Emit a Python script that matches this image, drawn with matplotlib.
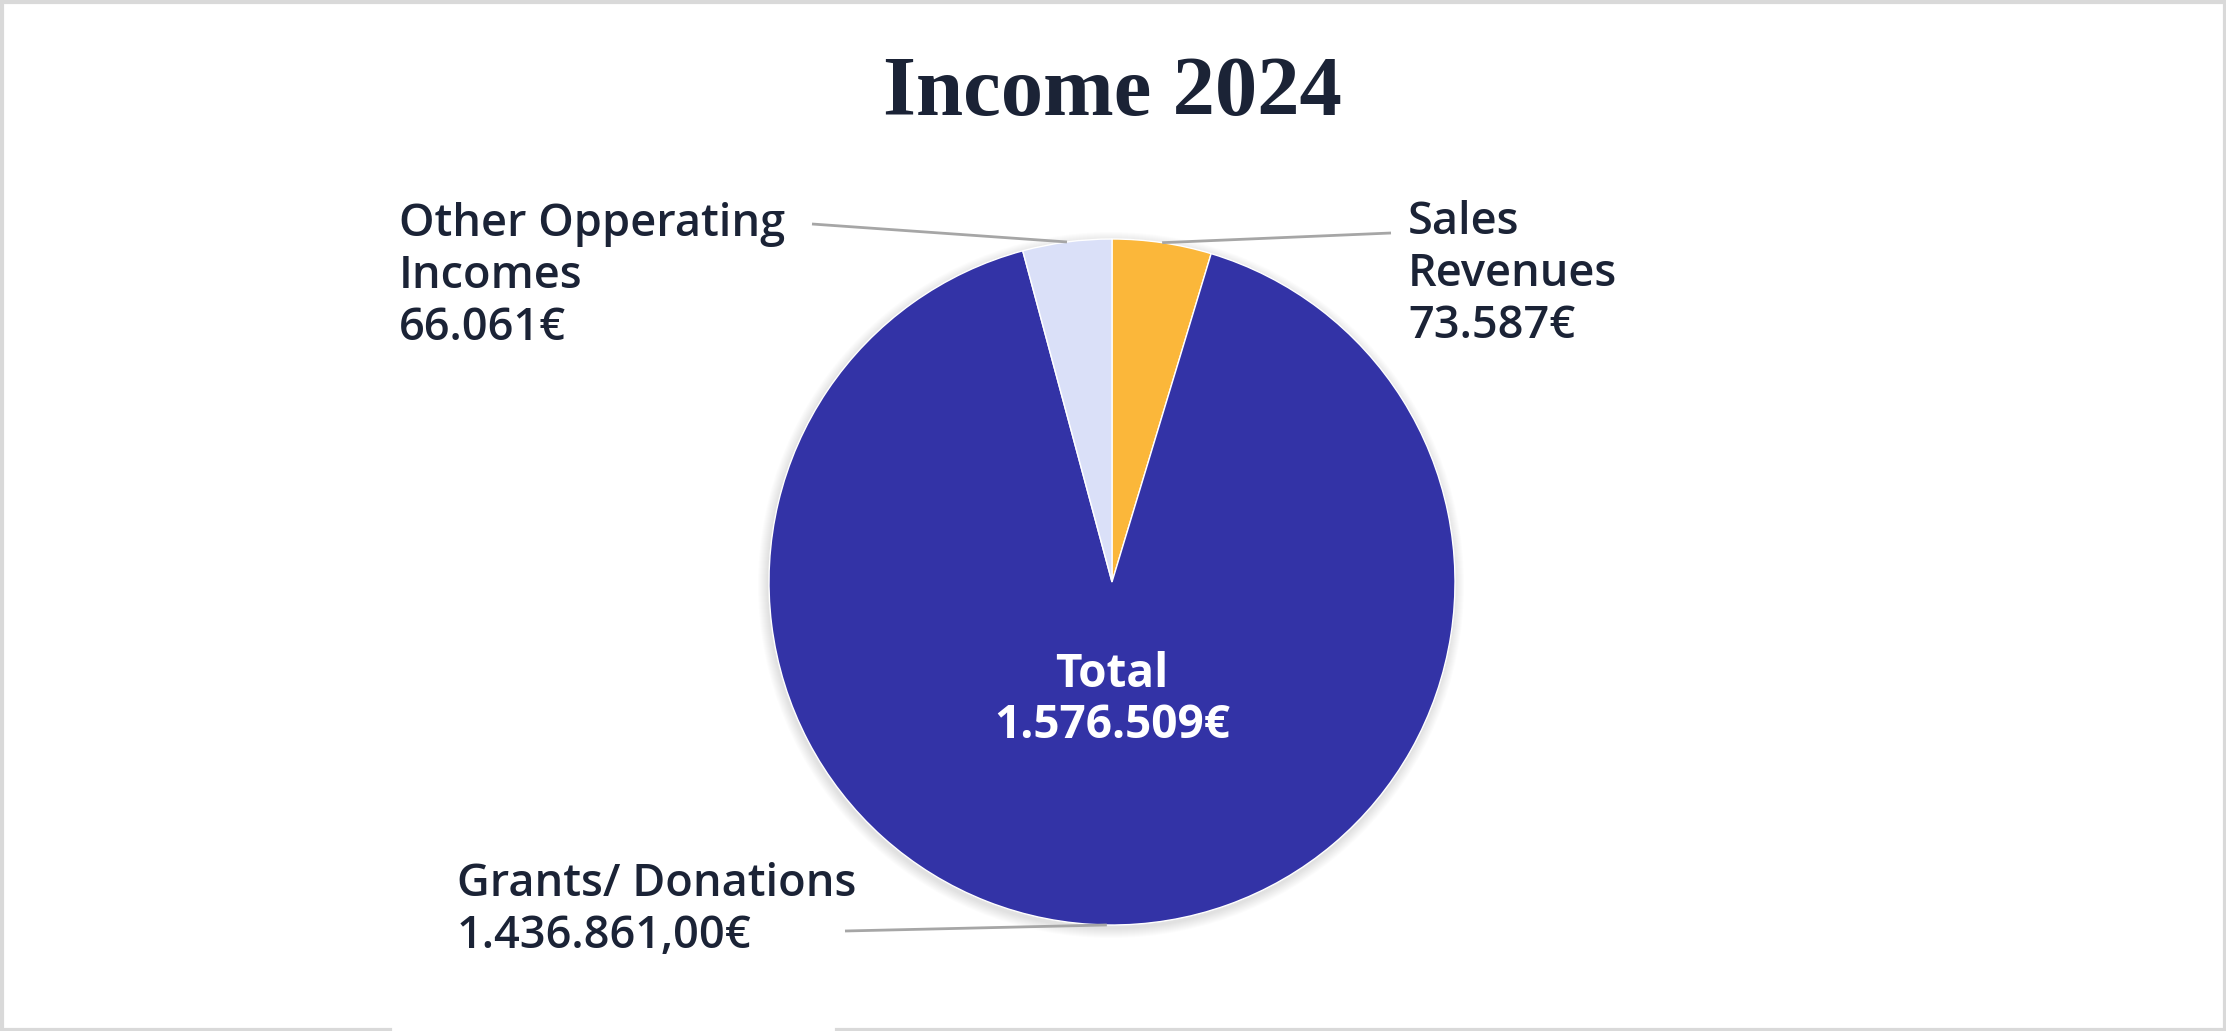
import matplotlib
matplotlib.use("Agg")
import matplotlib.pyplot as plt
from matplotlib.patches import Circle
import numpy as np

# ---- data ----
categories = ["Sales Revenues", "Grants/ Donations", "Other Opperating Incomes"]
values = [73587, 1436861, 66061]
label_texts = ["Sales\nRevenues\n73.587€",
               "Grants/ Donations\n1.436.861,00€",
               "Other Opperating\nIncomes\n66.061€"]
total_text = "Total\n1.576.509€"
title = "Income 2024"
colors = ["#FBB73A", "#3333A6", "#DAE0F8"]

W, H = 2226, 1031
fig = plt.figure(figsize=(W / 100, H / 100), dpi=100)
fig.patch.set_facecolor("white")
ax = fig.add_axes([0, 0, 1, 1])

cx, cy, R = 1112, H - 582, 343

# soft shadow
for k in range(10, 0, -1):
    ax.add_patch(Circle((cx - 1, cy - 3), R + k, color="black", alpha=0.012, lw=0, zorder=0))

wedges, _ = ax.pie(values, colors=colors, startangle=90, counterclock=False,
                   center=(cx, cy), radius=R, frame=True,
                   wedgeprops=dict(edgecolor="white", linewidth=1))
ax.set_xlim(0, W)
ax.set_ylim(0, H)
ax.set_aspect("auto")
ax.axis("off")

txt_color = "#1B2336"
lab_font = "Open Sans"

# label anchor positions (figure pixels, top-left of text) and leader ends
label_pos = [(1408, H - 200), (457, H - 862), (399, H - 202)]
leader_end = [(1391, H - 233), (845, H - 931), (812, H - 224)]

for w, txt, (lx, ly), (ex, ey) in zip(wedges, label_texts, label_pos, leader_end):
    ang = np.deg2rad((w.theta1 + w.theta2) / 2)
    px, py = cx + R * np.cos(ang), cy + R * np.sin(ang)
    ax.plot([px, ex], [py, ey], color="#A6A6A6", lw=2, zorder=3, solid_capstyle="butt")
    ax.text(lx, ly, txt, ha="left", va="top", fontsize=32.5, family=lab_font,
            fontweight="semibold", color=txt_color, linespacing=1.2, zorder=4)

ax.text(cx, H - 700, total_text, ha="center", va="center", fontsize=33,
        family=lab_font, fontweight="bold", color="white", linespacing=1.12, zorder=4)

fig.text(1112 / W, 1 - 95 / H, title, ha="center", va="center", fontsize=61,
         family="Liberation Serif", fontweight="bold", color=txt_color)

# border
bc = "#D9D9D9"
lw = 3
ax.plot([1.5, W - 1.5], [H - 1.5, H - 1.5], color=bc, lw=lw, zorder=5)
ax.plot([1.5, 1.5], [0, H], color=bc, lw=lw, zorder=5)
ax.plot([W - 1.5, W - 1.5], [0, H], color=bc, lw=lw, zorder=5)
ax.plot([0, 390], [1.5, 1.5], color=bc, lw=lw, zorder=5)
ax.plot([837, W], [1.5, 1.5], color=bc, lw=lw, zorder=5)

fig.savefig("out.png", dpi=100, facecolor="white")
